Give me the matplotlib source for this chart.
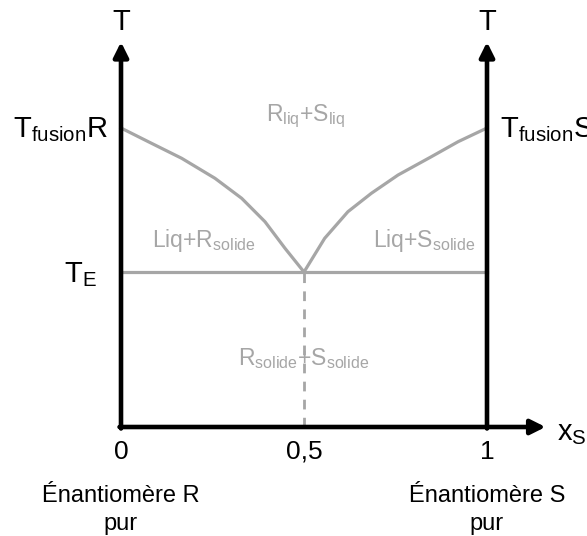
import matplotlib.pyplot as plt

plt.rcParams['font.family'] = ['Liberation Sans', 'DejaVu Sans']
plt.rcParams['mathtext.default'] = 'regular'

# diagram values (arbitrary temperature units, x = mole fraction of S)
T_fus = 299
T_E = 155
x_E = 0.5
T_top = 385
x_end = 1.16

# liquidus curves
x_left = [0, 0.0746, 0.1658, 0.2568, 0.3297, 0.3934, 0.4481, 0.5]
T_left = [299, 285.3, 268.7, 248.7, 228.7, 205.3, 178.7, 155]
x_right = [0.5, 0.5565, 0.620, 0.684, 0.757, 0.848, 0.921, 1]
T_right = [155, 188.7, 215.3, 233.7, 252, 270.3, 285.3, 299]

ticks = [0, 0.5, 1]
tick_labels = ['0', '0,5', '1']

gray = '#a6a6a6'

fig = plt.figure(figsize=(5.87, 5.36), dpi=100)
ax = fig.add_axes([0, 0, 1, 1])
ax.set_xlim(-121/366, 466/366)
ax.set_ylim(-109, 427)
ax.axis('off')

# phase lines
ax.plot(x_left, T_left, color=gray, lw=2.3, solid_joinstyle='round')
ax.plot(x_right, T_right, color=gray, lw=2.3, solid_joinstyle='round')
ax.plot([0, 1], [T_E, T_E], color=gray, lw=2.3)
ax.plot([x_E, x_E], [0, T_E], color=gray, lw=2.0, dashes=(3.5, 3))

# axes with arrows
arr = dict(arrowstyle='-|>', lw=3.3, color='black', mutation_scale=22,
           shrinkA=0, shrinkB=0)
ax.annotate('', xy=(0, T_top), xytext=(0, -1.5), arrowprops=arr)
ax.annotate('', xy=(1, T_top), xytext=(1, -1.5), arrowprops=arr)
ax.annotate('', xy=(x_end, 0), xytext=(-0.004, 0), arrowprops=arr)

# axis labels
ax.text(0, 405, 'T', fontsize=21, ha='center', va='center')
ax.text(1, 405, 'T', fontsize=21, ha='center', va='center')
ax.text(-0.036, 297, '$T_{fusion}R$', fontsize=21, ha='right', va='center')
ax.text(1.036, 297, '$T_{fusion}S$', fontsize=21, ha='left', va='center')
ax.text(-0.066, 152, '$T_E$', fontsize=21, ha='right', va='center')
ax.text(1.19, -6, '$x_S$', fontsize=21, ha='left', va='center')

for x, lab in zip(ticks, tick_labels):
    ax.text(x, -25, lab, fontsize=19, ha='center', va='center')

ax.text(0, -83, 'Énantiomère R\npur', fontsize=17, ha='center', va='center',
        linespacing=1.35)
ax.text(1, -83, 'Énantiomère S\npur', fontsize=17, ha='center', va='center',
        linespacing=1.35)

# phase regions
ax.text(0.505, 311, '$R_{liq}$+$S_{liq}$', fontsize=16.5, color=gray,
        ha='center', va='center')
ax.text(0.227, 187, 'Liq+$R_{solide}$', fontsize=16.5, color=gray,
        ha='center', va='center')
ax.text(0.828, 187, 'Liq+$S_{solide}$', fontsize=16.5, color=gray,
        ha='center', va='center')
ax.text(0.5, 68, '$R_{solide}$+$S_{solide}$', fontsize=16.5, color=gray,
        ha='center', va='center')

fig.savefig('out.png', dpi=100)
